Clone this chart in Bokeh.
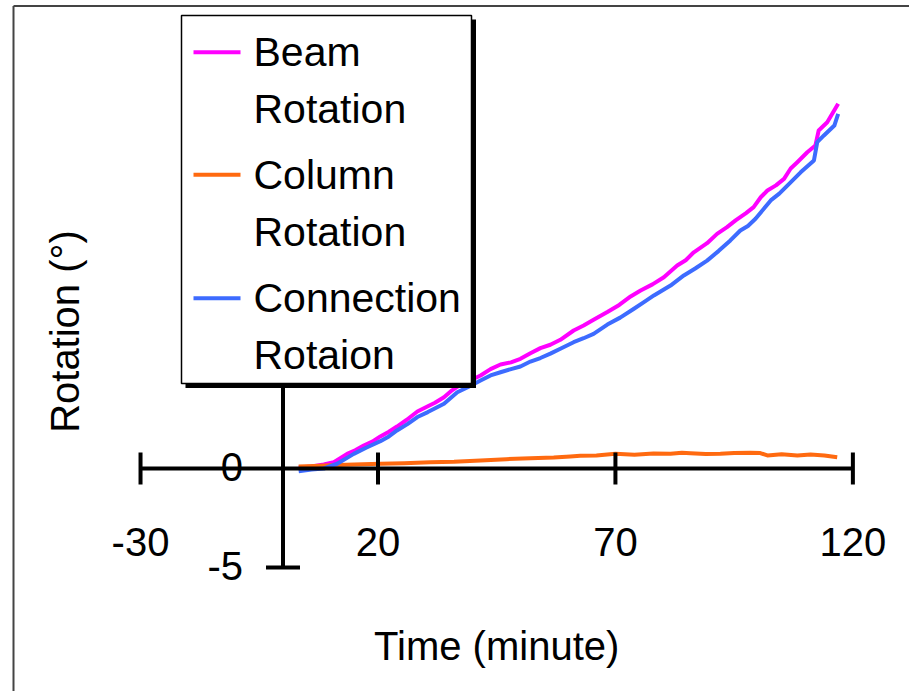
import math
from bokeh.plotting import figure
from bokeh.models import Range1d
from bokeh.core.properties import value
from bokeh.embed import file_html
from bokeh.resources import INLINE

# ---------------- data ----------------
time_beam = [3.3, 6.0, 8.6, 10.7, 13.5, 15.2, 17.0, 18.8, 20.5, 22.3, 24.0, 26.0, 28.3, 30.4,
             32.0, 33.9, 35.6, 37.4, 39.5, 41.6, 43.7, 45.8, 48.0, 50.0, 52.1, 54.2, 56.3,
             58.4, 61.2, 63.3, 65.4, 68.3, 70.8, 73.2, 75.3, 77.8, 80.2, 83.0, 84.8, 86.5,
             89.3, 91.4, 93.5, 95.3, 97.5, 99.1, 100.6, 102.0, 103.8, 105.5, 106.9, 108.3,
             110.4, 112.1, 112.8, 114.6, 116.9]
beam_rotation = [0.05, 0.10, 0.20, 0.32, 0.74, 0.92, 1.16, 1.36, 1.62, 1.86, 2.12, 2.45, 2.88,
                 3.13, 3.32, 3.60, 3.95, 4.24, 4.46, 4.70, 5.02, 5.25, 5.36, 5.54, 5.82, 6.08,
                 6.25, 6.50, 6.97, 7.22, 7.51, 7.90, 8.26, 8.69, 8.99, 9.30, 9.66, 10.25,
                 10.52, 10.92, 11.38, 11.85, 12.19, 12.53, 12.90, 13.20, 13.70, 14.04, 14.30,
                 14.63, 15.15, 15.47, 15.97, 16.31, 17.07, 17.49, 18.42]

time_column = [3.3, 6.5, 10.0, 15.0, 20.5, 25.5, 31.0, 36.0, 41.6, 47.0, 52.1, 57.0, 60.5,
               62.6, 66.0, 70.0, 74.0, 78.0, 81.6, 84.0, 85.8, 89.0, 92.1, 95.0, 98.4,
               100.5, 102.0, 105.0, 108.3, 111.1, 114.0, 116.7]
column_rotation = [0.10, 0.13, 0.17, 0.20, 0.24, 0.27, 0.32, 0.34, 0.40, 0.47, 0.52, 0.56, 0.61,
                   0.64, 0.66, 0.74, 0.70, 0.76, 0.74, 0.80, 0.77, 0.73, 0.74, 0.78, 0.79,
                   0.78, 0.66, 0.72, 0.66, 0.71, 0.66, 0.57]

time_connection = [3.3, 6.0, 8.6, 11.4, 14.9, 17.5, 20.5, 22.3, 24.0, 26.2, 28.3, 30.5, 33.9,
                   36.7, 39.0, 41.6, 43.7, 45.8, 48.0, 50.0, 52.1, 54.2, 56.3, 58.4, 61.2,
                   63.3, 65.4, 68.3, 71.0, 73.9, 76.0, 78.1, 81.6, 84.4, 86.8, 89.3, 91.7,
                   94.2, 96.3, 97.9, 99.5, 102.7, 104.5, 106.2, 109.0, 111.8, 112.5, 113.9,
                   116.1, 116.9]
connection_rotation = [-0.14, -0.05, 0.00, 0.24, 0.74, 1.05, 1.38, 1.62, 1.92, 2.24, 2.60, 2.85,
                       3.27, 3.85, 4.12, 4.44, 4.70, 4.86, 5.02, 5.15, 5.40, 5.58, 5.80, 6.05,
                       6.38, 6.58, 6.80, 7.27, 7.62, 8.07, 8.40, 8.74, 9.24, 9.75, 10.10, 10.50,
                       10.98, 11.52, 12.02, 12.25, 12.61, 13.54, 13.88, 14.29, 14.96, 15.56,
                       16.48, 16.82, 17.32, 17.91]

x_ticks = [-30, 20, 70, 120]
x_tick_labels = ["-30", "20", "70", "120"]
y_ticks = [-5, 0]
y_tick_labels = ["-5", "0"]
y_axis_top = 20

legend_labels = [["Beam", "Rotation"], ["Column", "Rotation"], ["Connection", "Rotaion"]]
colors = ["#ff00ff", "#ff6a10", "#3d6bff"]

x_title = "Time (minute)"
y_title = "Rotation (\u00b0)"

# ---------------- layout (pixel geometry of the picture) ----------------
W, H = 909, 691
X0PX, XS = 282.5, 4.749   # x-pixel of time 0, pixels per minute
Y0PX, YS = 468.0, 19.8    # y-pixel of rotation 0, pixels per degree

def X(px):
    return (px - X0PX) / XS

def Y(py):
    return (Y0PX - py) / YS

FONT = value("Liberation Sans")
FS_TICK = value("40px")
FS_LEG = value("41px")
FS_TITLE = value("40px")
LW = 4
AX_W = 4

p = figure(width=W, height=H, output_backend="svg", toolbar_location=None,
           x_range=Range1d(X(0), X(W)),
           y_range=Range1d(Y(H), Y(0)),
           x_axis_location=None, y_axis_location=None,
           min_border=0, outline_line_color=None,
           background_fill_color="white", border_fill_color="white")
p.grid.visible = False

# outer frame (top and left edges visible in the reference)
p.segment(x0=[X(13), X(13)], y0=[Y(5.5), Y(5.5)], x1=[X(W), X(13)], y1=[Y(5.5), Y(H)],
          line_color="#444444", line_width=2)

# data series
p.line(time_beam, beam_rotation, line_color=colors[0], line_width=LW, line_join="round")
p.line(time_column, column_rotation, line_color=colors[1], line_width=LW, line_join="round")
p.line(time_connection, connection_rotation, line_color=colors[2], line_width=LW, line_join="round")

# crossing axes drawn through the data scales
p.segment(x0=[min(x_ticks)], y0=[0], x1=[max(x_ticks)], y1=[0], line_color="black", line_width=AX_W)
p.segment(x0=[0], y0=[min(y_ticks)], x1=[0], y1=[y_axis_top], line_color="black", line_width=AX_W)
tx = 16 / YS
p.segment(x0=x_ticks, y0=[-tx] * len(x_ticks), x1=x_ticks, y1=[tx] * len(x_ticks),
          line_color="black", line_width=AX_W)
ty = 17 / XS
yt = [v for v in y_ticks if v != 0]
p.segment(x0=[-ty] * len(yt), y0=yt, x1=[ty] * len(yt), y1=yt, line_color="black", line_width=AX_W)

p.text(x=x_ticks, y=[0] * len(x_ticks), text=x_tick_labels, y_offset=73,
       text_align="center", text_baseline="alphabetic", text_font=FONT, text_font_size=FS_TICK,
       text_color="black")
p.text(x=[0] * len(y_ticks), y=y_ticks, text=y_tick_labels, x_offset=-40, y_offset=-2,
       text_align="right", text_baseline="alphabetic", text_font=FONT, text_font_size=FS_TICK,
       text_color="black")

# axis titles
p.text(x=[(min(x_ticks) + max(x_ticks)) / 2], y=[0], text=[x_title], y_offset=177,
       text_align="center", text_baseline="alphabetic", text_font=FONT, text_font_size=FS_TITLE,
       text_color="black")
p.text(x=[X(64)], y=[Y(331)], text=[y_title], angle=math.pi / 2,
       text_align="center", text_baseline="alphabetic", text_font=FONT, text_font_size=FS_TITLE,
       text_color="black")

# legend box with drop shadow
p.quad(left=[X(185)], right=[X(475.5)], top=[Y(19)], bottom=[Y(387.5)],
       fill_color="black", line_color=None)
p.quad(left=[X(181)], right=[X(471)], top=[Y(15)], bottom=[Y(383)],
       fill_color="white", line_color="black", line_width=1.5)

glyph_y = [51.7, 174.3, 297.7]
base_y = [[51, 108], [174, 231], [297, 354]]
for i, lab in enumerate(legend_labels):
    p.segment(x0=[X(193)], x1=[X(240)], y0=[Y(glyph_y[i])], y1=[Y(glyph_y[i])],
              line_color=colors[i], line_width=LW)
    p.text(x=[X(253)] * 2, y=[Y(b) for b in base_y[i]], text=lab,
           text_align="left", text_baseline="alphabetic", text_font=FONT, text_font_size=FS_LEG,
           text_color="black")

open("out.html", "w").write(file_html(p, INLINE))
